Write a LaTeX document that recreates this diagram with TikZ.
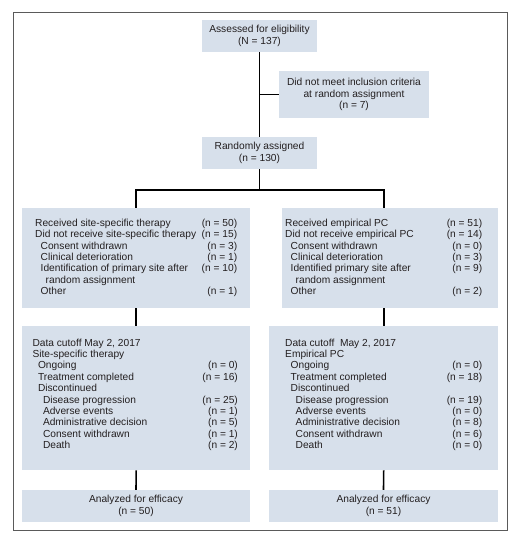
\documentclass[tikz,border=0pt]{standalone}
\usepackage{fontspec}
\setmainfont{Liberation Sans}
\definecolor{boxfill}{RGB}{215,224,235}
\definecolor{txt}{RGB}{35,31,32}
\definecolor{framec}{RGB}{90,90,90}
\newcommand{\ia}{\hspace*{5.5pt}}
\newcommand{\ib}{\hspace*{10.5pt}}
\begin{document}
\begin{tikzpicture}[x=1pt,y=-1pt,
  cbox/.style={fill=boxfill,draw=none,inner sep=0pt,align=center,text=txt,
    font=\fontsize{10.2}{11.4}\selectfont},
  lbox/.style={fill=boxfill,draw=none,inner sep=0pt,anchor=north west},
  ltext/.style={anchor=north west,inner sep=0pt,text=txt,
    font=\fontsize{10.2}{11.4}\selectfont},
  conn/.style={line width=1.6pt,draw=black},
  framebox/.style={draw=framec,line width=0.9pt}]
\useasboundingbox (0,0) rectangle (520,545);
\draw[framebox] (13,12) rectangle (507,530);

% centered boxes
\node[cbox,minimum width=115pt,minimum height=32pt] (top) at (259.5,36)
  {Assessed for eligibility\\(N = 137)};
\node[cbox,minimum width=150pt,minimum height=47pt] (side) at (354,94.5)
  {Did not meet inclusion criteria\\at random assignment\\(n = 7)};
\node[cbox,minimum width=115pt,minimum height=32pt] (rand) at (259.5,153)
  {Randomly assigned\\(n = 130)};

% list boxes
\node[lbox,minimum width=228pt,minimum height=100pt] (L2) at (22,208) {};
\node[lbox,minimum width=216pt,minimum height=100pt] (R2) at (282,208) {};
\node[lbox,minimum width=228pt,minimum height=144pt] (L3) at (22,326) {};
\node[lbox,minimum width=229pt,minimum height=144pt] (R3) at (269,326) {};

\node[ltext] (L2t) at (35,218.1) {\begin{tabular*}{202pt}{@{}l@{\extracolsep{\fill}}r@{}}
Received site-specific therapy & (n = 50)\\
Did not receive site-specific therapy & (n = 15)\\
\ia Consent withdrawn & (n = 3)\\
\ia Clinical deterioration & (n = 1)\\
\ia Identification of primary site after & (n = 10)\\
\ib random assignment & \\
\ia Other & (n = 1)
\end{tabular*}};

\node[ltext] (R2t) at (285,218.1) {\begin{tabular*}{197pt}{@{}l@{\extracolsep{\fill}}r@{}}
Received empirical PC & (n = 51)\\
Did not receive empirical PC & (n = 14)\\
\ia Consent withdrawn & (n = 0)\\
\ia Clinical deterioration & (n = 3)\\
\ia Identified primary site after & (n = 9)\\
\ib random assignment & \\
\ia Other & (n = 2)
\end{tabular*}};

\node[ltext] (L3t) at (32.3,338) {\begin{tabular*}{205.4pt}{@{}l@{\extracolsep{\fill}}r@{}}
Data cutoff May 2, 2017 & \\
Site-specific therapy & \\
\ia Ongoing & (n = 0)\\
\ia Treatment completed & (n = 16)\\
\ia Discontinued & \\
\ib Disease progression & (n = 25)\\
\ib Adverse events & (n = 1)\\
\ib Administrative decision & (n = 5)\\
\ib Consent withdrawn & (n = 1)\\
\ib Death & (n = 2)
\end{tabular*}};

\node[ltext] (R3t) at (285,338) {\begin{tabular*}{197pt}{@{}l@{\extracolsep{\fill}}r@{}}
Data cutoff~ May 2, 2017 & \\
Empirical PC & \\
\ia Ongoing & (n = 0)\\
\ia Treatment completed & (n = 18)\\
\ia Discontinued & \\
\ib Disease progression & (n = 19)\\
\ib Adverse events & (n = 0)\\
\ib Administrative decision & (n = 8)\\
\ib Consent withdrawn & (n = 6)\\
\ib Death & (n = 0)
\end{tabular*}};

% bottom boxes
\node[cbox,minimum width=228pt,minimum height=32pt] (L4) at (136,506)
  {Analyzed for efficacy\\(n = 50)};
\node[cbox,minimum width=229pt,minimum height=32pt] (R4) at (383.5,506)
  {Analyzed for efficacy\\(n = 51)};

% connectors
\coordinate (split) at (259.5,190);
\coordinate (rtop) at (R3.north |- R2.north);
\draw[conn] (top.south) -- (rand.north);
\draw[conn] (top.south |- side.west) -- (side.west);
\draw[conn] (rand.south) -- (split);
\draw[conn] (split) -| (L2.north);
\draw[conn] (split) -| (rtop);
\draw[conn] (L2.south) -- (L3.north);
\draw[conn] (R3.north |- R2.south) -- (R3.north);
\draw[conn] (L3.south) -- (L4.north);
\draw[conn] (R3.south) -- (R4.north);
\end{tikzpicture}
\end{document}
